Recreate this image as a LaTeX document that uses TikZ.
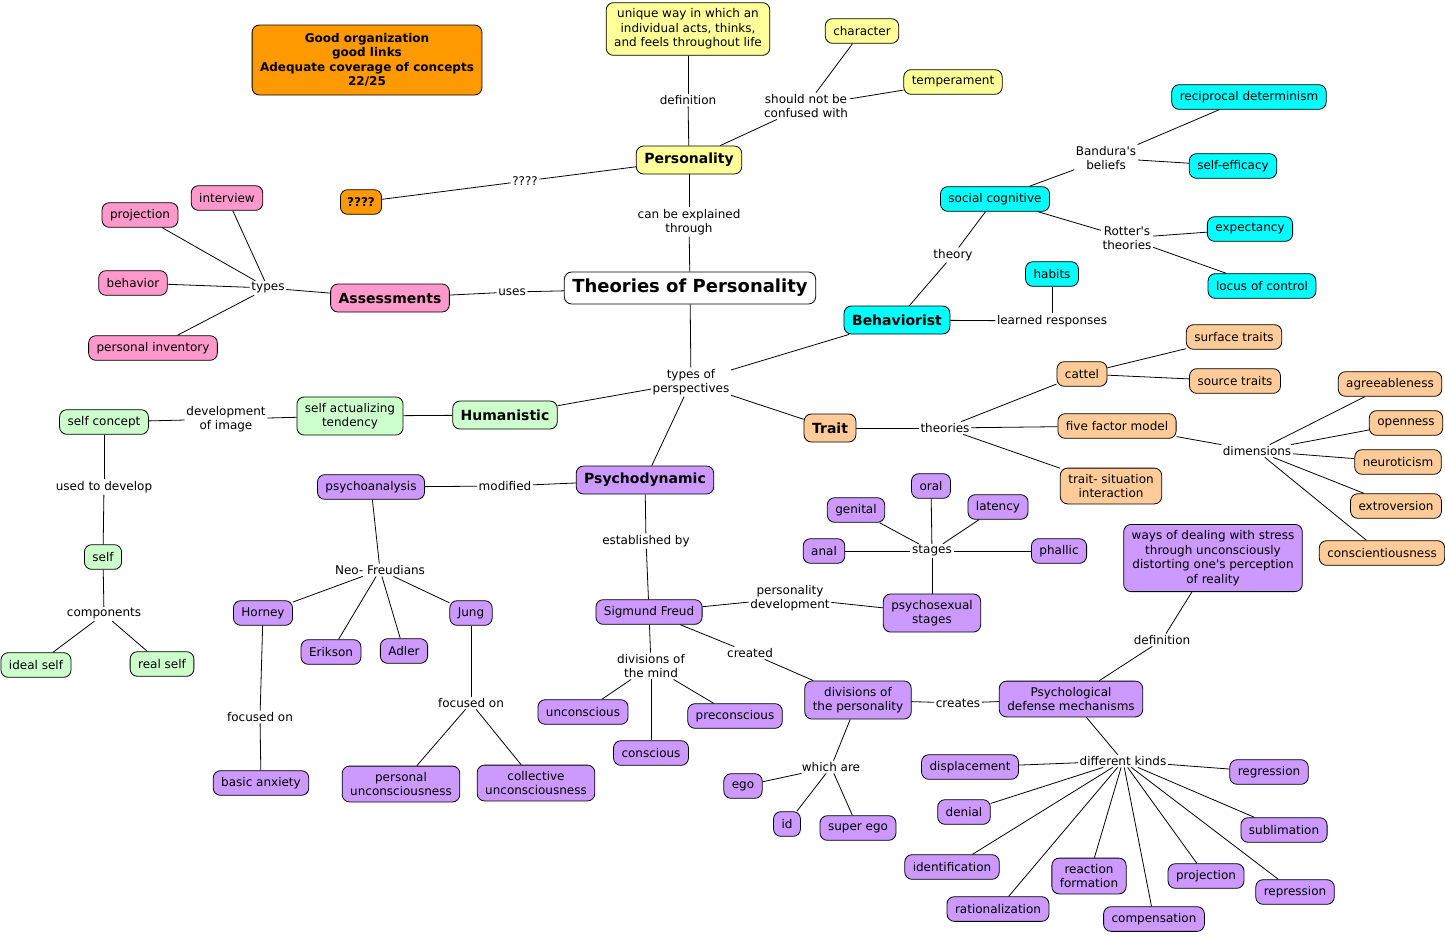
\documentclass[tikz,border=0pt]{standalone}
\usepackage{fontspec}
\setmainfont{DejaVu Sans}
\definecolor{cmYellow}{HTML}{FFFF99}
\definecolor{cmOrange}{HTML}{FF9900}
\definecolor{cmPink}{HTML}{FF99CC}
\definecolor{cmCyan}{HTML}{00FFFF}
\definecolor{cmPeach}{HTML}{FFCC99}
\definecolor{cmGreen}{HTML}{CCFFCC}
\definecolor{cmPurple}{HTML}{CC99FF}
\begin{document}
\begin{tikzpicture}[x=0.75pt,y=0.75pt,line width=0.6pt]
\tikzstyle{every node}+=[inner sep=1pt]
\tikzstyle{concept}=[draw=black,rounded corners=5.5pt,inner xsep=6pt,inner ysep=4.5pt,minimum height=18.5pt,align=center,font=\fontsize{9}{10.9}\selectfont]
\tikzstyle{main}=[concept,minimum height=21pt,font=\fontsize{10.5}{12.5}\selectfont\bfseries]
\tikzstyle{linklbl}=[align=center,font=\fontsize{9}{10.6}\selectfont]
\tikzstyle{yel}=[fill=cmYellow]
\tikzstyle{org}=[fill=cmOrange]
\tikzstyle{pnk}=[fill=cmPink]
\tikzstyle{cyn}=[fill=cmCyan]
\tikzstyle{pch}=[fill=cmPeach]
\tikzstyle{grn}=[fill=cmGreen]
\tikzstyle{prp}=[fill=cmPurple]
\useasboundingbox (0,0) rectangle (1445,-936);
\node [concept,yel] (pdef) at (688,-29) {unique way in which an\\individual acts, thinks,\\and feels throughout life};
\node [concept,yel] (character) at (862,-31) {character};
\node [concept,yel] (temperament) at (953,-82) {temperament};
\node [main,yel] (personality) at (689,-160) {Personality};
\node [concept,org,minimum width=169.5pt,minimum height=52.5pt,font=\fontsize{9}{10.9}\selectfont\bfseries] (grade) at (367,-60) {Good organization\\good links\\Adequate coverage of concepts\\22/25};
\node [concept,org,inner xsep=5pt,font=\fontsize{9}{10.9}\selectfont\bfseries] (unknown) at (361,-202) {????};
\node [concept,fill=white,inner xsep=6pt,minimum height=24pt,font=\fontsize{13.5}{15}\selectfont\bfseries] (theories) at (690,-288) {Theories of Personality};
\node [main,pnk] (assess) at (390,-298) {Assessments};
\node [concept,pnk] (interview) at (227,-198) {interview};
\node [concept,pnk] (projtest) at (140,-215) {projection};
\node [concept,pnk] (behavior) at (133,-283) {behavior};
\node [concept,pnk] (inventory) at (153,-348) {personal inventory};
\node [main,cyn] (behav) at (897,-320) {Behaviorist};
\node [concept,cyn] (social) at (995,-199) {social cognitive};
\node [concept,cyn] (recip) at (1249,-97) {reciprocal determinism};
\node [concept,cyn] (efficacy) at (1233,-166) {self-efficacy};
\node [concept,cyn] (expect) at (1250,-229) {expectancy};
\node [concept,cyn] (locus) at (1262,-286) {locus of control};
\node [concept,cyn] (habits) at (1052,-274) {habits};
\node [main,pch] (trait) at (830,-428) {Trait};
\node [concept,pch] (cattel) at (1082,-374) {cattel};
\node [concept,pch] (surface) at (1234,-337) {surface traits};
\node [concept,pch] (source) at (1235,-381) {source traits};
\node [concept,pch] (fivef) at (1117,-426) {five factor model};
\node [concept,pch] (situation) at (1111,-486) {trait- situation\\interaction};
\node [concept,pch] (agree) at (1390,-384) {agreeableness};
\node [concept,pch] (open) at (1406,-423) {openness};
\node [concept,pch] (neuro) at (1398,-462) {neuroticism};
\node [concept,pch] (extro) at (1396,-506) {extroversion};
\node [concept,pch] (consc) at (1382,-553) {conscientiousness};
\node [main,grn] (human) at (505,-415) {Humanistic};
\node [concept,grn] (selfact) at (350,-416) {self actualizing\\tendency};
\node [concept,grn] (selfcon) at (104,-422) {self concept};
\node [concept,grn] (self) at (103,-557) {self};
\node [concept,grn] (ideal) at (36,-665) {ideal self};
\node [concept,grn] (real) at (162,-664) {real self};
\node [main,prp] (psychodyn) at (645,-480) {Psychodynamic};
\node [concept,prp] (psychoan) at (371,-487) {psychoanalysis};
\node [concept,prp] (horney) at (263,-613) {Horney};
\node [concept,prp] (erikson) at (331,-652) {Erikson};
\node [concept,prp] (adler) at (404,-651) {Adler};
\node [concept,prp] (jung) at (471,-613) {Jung};
\node [concept,prp] (anxiety) at (261,-783) {basic anxiety};
\node [concept,prp] (persunc) at (401,-784) {personal\\unconsciousness};
\node [concept,prp] (collunc) at (536,-783) {collective\\unconsciousness};
\node [concept,prp] (freud) at (649,-612) {Sigmund Freud};
\node [concept,prp] (psysex) at (932,-613) {psychosexual\\stages};
\node [concept,prp] (oral) at (931,-486) {oral};
\node [concept,prp] (genital) at (856,-510) {genital};
\node [concept,prp] (latency) at (998,-507) {latency};
\node [concept,prp] (anal) at (824,-551) {anal};
\node [concept,prp] (phallic) at (1059,-551) {phallic};
\node [concept,prp] (uncon) at (583,-712) {unconscious};
\node [concept,prp] (precon) at (735,-716) {preconscious};
\node [concept,prp] (con) at (651,-753) {conscious};
\node [concept,prp] (divpers) at (858,-700) {divisions of\\the personality};
\node [concept,prp] (defense) at (1071,-699) {Psychological\\defense mechanisms};
\node [concept,prp] (stress) at (1213,-558) {ways of dealing with stress\\through unconsciously\\distorting one\textquotesingle s perception\\of reality};
\node [concept,prp] (ego) at (743,-786) {ego};
\node [concept,prp] (id) at (787,-824) {id};
\node [concept,prp] (superego) at (858,-828) {super ego};
\node [concept,prp] (displace) at (970,-767) {displacement};
\node [concept,prp] (denial) at (964,-812) {denial};
\node [concept,prp] (ident) at (952,-867) {identification};
\node [concept,prp] (ration) at (998,-909) {rationalization};
\node [concept,prp] (reaction) at (1089,-876) {reaction\\formation};
\node [concept,prp] (compens) at (1154,-919) {compensation};
\node [concept,prp] (projdef) at (1206,-876) {projection};
\node [concept,prp] (repress) at (1295,-892) {repression};
\node [concept,prp] (sublim) at (1284,-830) {sublimation};
\node [concept,prp] (regress) at (1269,-772) {regression};
\node [linklbl] (lDef) at (688,-100) {definition};
\node [linklbl] (lConfused) at (806,-106) {should not be\\confused with};
\node [linklbl] (lUnknown) at (525,-181) {????};
\node [linklbl] (lExplained) at (689,-222) {can be explained\\through};
\node [linklbl] (lUses) at (512,-292) {uses};
\node [linklbl] (lTypes) at (268,-288) {types};
\node [linklbl] (lPersp) at (691,-382) {types of\\perspectives};
\node [linklbl] (lTheory) at (953,-255) {theory};
\node [linklbl] (lBandura) at (1106,-158) {Bandura\textquotesingle s\\beliefs};
\node [linklbl] (lRotter) at (1127,-238) {Rotter\textquotesingle s\\theories};
\node [linklbl] (lLearned) at (1052,-321) {learned responses};
\node [linklbl] (lTheories) at (945,-428) {theories};
\node [linklbl] (lDimens) at (1257,-451) {dimensions};
\node [linklbl] (lImage) at (226,-419) {development\\of image};
\node [linklbl] (lUsedTo) at (104,-487) {used to develop};
\node [linklbl] (lCompon) at (104,-614) {components};
\node [linklbl] (lModified) at (505,-486) {modified};
\node [linklbl] (lNeo) at (380,-570) {Neo- Freudians};
\node [linklbl] (lFocusH) at (260,-717) {focused on};
\node [linklbl] (lFocusJ) at (471,-703) {focused on};
\node [linklbl] (lEstab) at (646,-541) {established by};
\node [linklbl] (lPersDev) at (790,-598) {personality\\development};
\node [linklbl] (lStages) at (932,-551) {stages};
\node [linklbl] (lDivMind) at (651,-666) {divisions of\\the mind};
\node [linklbl] (lCreated) at (750,-653) {created};
\node [linklbl] (lCreates) at (958,-703) {creates};
\node [linklbl] (lWhich) at (831,-767) {which are};
\node [linklbl] (lDefDef) at (1162,-640) {definition};
\node [linklbl] (lKinds) at (1123,-761) {different kinds};
\draw (pdef) -- (lDef);
\draw (lDef) -- (personality);
\draw (personality) -- (lConfused);
\draw (lConfused) -- (character);
\draw (lConfused) -- (temperament);
\draw (personality) -- (lUnknown);
\draw (lUnknown) -- (unknown);
\draw (personality) -- (lExplained);
\draw (lExplained) -- (theories);
\draw (theories) -- (lUses);
\draw (lUses) -- (assess);
\draw (assess) -- (lTypes);
\foreach \n in {interview,projtest,behavior,inventory}
  \draw (lTypes) -- (\n);
\draw (theories) -- (lPersp);
\foreach \n in {behav,human,psychodyn,trait}
  \draw (lPersp) -- (\n);
\draw (behav) -- (lTheory);
\draw (lTheory) -- (social);
\draw (behav) -- (lLearned);
\draw (lLearned) -- (habits);
\draw (social) -- (lBandura);
\draw (lBandura) -- (recip);
\draw (lBandura) -- (efficacy);
\draw (social) -- (lRotter);
\draw (lRotter) -- (expect);
\draw (lRotter) -- (locus);
\draw (trait) -- (lTheories);
\foreach \n in {cattel,fivef,situation}
  \draw (lTheories) -- (\n);
\draw (cattel) -- (surface);
\draw (cattel) -- (source);
\draw (fivef) -- (lDimens);
\foreach \n in {agree,open,neuro,extro,consc}
  \draw (lDimens) -- (\n);
\draw (human) -- (selfact);
\draw (selfact) -- (lImage);
\draw (lImage) -- (selfcon);
\draw (selfcon) -- (lUsedTo);
\draw (lUsedTo) -- (self);
\draw (self) -- (lCompon);
\draw (lCompon) -- (ideal);
\draw (lCompon) -- (real);
\draw (psychodyn) -- (lModified);
\draw (lModified) -- (psychoan);
\draw (psychoan) -- (lNeo);
\foreach \n in {horney,erikson,adler,jung}
  \draw (lNeo) -- (\n);
\draw (horney) -- (lFocusH);
\draw (lFocusH) -- (anxiety);
\draw (jung) -- (lFocusJ);
\draw (lFocusJ) -- (persunc);
\draw (lFocusJ) -- (collunc);
\draw (psychodyn) -- (lEstab);
\draw (lEstab) -- (freud);
\draw (freud) -- (lPersDev);
\draw (lPersDev) -- (psysex);
\draw (psysex) -- (lStages);
\foreach \n in {oral,genital,latency,anal,phallic}
  \draw (lStages) -- (\n);
\draw (freud) -- (lDivMind);
\foreach \n in {uncon,con,precon}
  \draw (lDivMind) -- (\n);
\draw (freud) -- (lCreated);
\draw (lCreated) -- (divpers);
\draw (divpers) -- (lCreates);
\draw (lCreates) -- (defense);
\draw (divpers) -- (lWhich);
\foreach \n in {ego,id,superego}
  \draw (lWhich) -- (\n);
\draw (defense) -- (lDefDef);
\draw (lDefDef) -- (stress);
\draw (defense) -- (lKinds);
\foreach \n in {displace,denial,ident,ration,reaction,compens,projdef,repress,sublim,regress}
  \draw (lKinds) -- (\n);
\end{tikzpicture}
\end{document}
